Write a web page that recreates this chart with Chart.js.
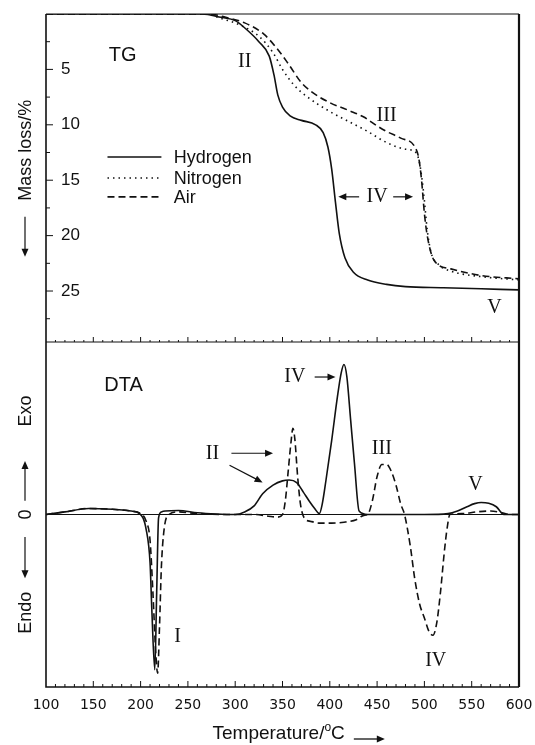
<!DOCTYPE html>
<html>
<head>
<meta charset="utf-8">
<script src="https://cdn.jsdelivr.net/npm/chart.js@4.4.1/dist/chart.umd.min.js"></script>
<style>
  html, body { margin: 0; padding: 0; background: #fff; }
  canvas { display: block; }
</style>
</head>
<body>
<canvas id="chart" width="535" height="745"></canvas>
<script>
'use strict';

// TG panel: temperature (°C) vs. mass loss (%)
const hydrogenTgTemp = [100, 200, 265, 285, 300, 312, 325, 336, 341, 345, 350, 358, 370, 385, 393, 398, 402, 406, 410, 416, 425, 440, 460, 480, 520, 560, 600];
const hydrogenTgLoss = [0, 0, 0, 0.3, 0.6, 1.4, 2.5, 3.8, 5.5, 7.3, 8.4, 9.2, 9.6, 10.0, 10.7, 12.0, 14.0, 17.0, 19.8, 22.0, 23.3, 24.0, 24.4, 24.6, 24.7, 24.8, 24.9];

const nitrogenTgTemp = [100, 200, 268, 285, 305, 325, 340, 350, 362, 375, 400, 420, 440, 460, 480, 491, 495, 499, 503, 507, 515, 528, 560, 600];
const nitrogenTgLoss = [0, 0, 0, 0.4, 1.0, 2.0, 3.5, 5.0, 6.4, 7.4, 8.8, 9.7, 10.6, 11.6, 12.2, 12.5, 13.5, 16.0, 19.5, 21.5, 22.6, 23.2, 23.7, 24.0];

const airTgTemp = [100, 200, 272, 290, 310, 330, 345, 357, 370, 382, 400, 420, 436, 450, 460, 475, 490, 494, 497, 500, 503, 510, 528, 560, 600];
const airTgLoss = [0, 0, 0, 0.3, 0.8, 1.8, 3.2, 4.6, 6.2, 7.1, 8.0, 8.7, 9.3, 10.1, 10.6, 11.2, 12.0, 13.0, 15.0, 18.0, 20.0, 22.2, 23.0, 23.6, 23.9];

// DTA panel: temperature (°C) vs. signal (arbitrary, exo up)
const hydrogenDtaTemp = [100, 120, 145, 170, 190, 199, 206, 210, 212, 215, 217, 219, 222, 226, 240, 260, 280, 300, 310, 320, 329, 340, 350, 357, 365, 372, 378, 384, 389, 392, 396, 402, 408, 412, 415, 418, 422, 426, 431, 440, 470, 500, 525, 535, 545, 553, 560, 568, 576, 584, 600];
const hydrogenDtaSignal = [0, 1.5, 3.5, 3.0, 2.0, 0.5, -9, -28, -57, -90, -45, -2, 1.5, 2.0, 2.3, 1.0, 0.3, 0, 1.5, 5, 12, 17, 19.5, 20, 18.5, 13, 8, 3.5, 0.5, 6, 20, 43, 68, 82, 87, 80, 55, 30, 2, 0, 0, 0, 0.5, 2, 4.5, 6.3, 7, 6.5, 4.5, 0, 0];

const airDtaTemp = [100, 120, 145, 170, 190, 200, 206, 210, 213, 216, 218, 220, 222, 225, 230, 240, 260, 290, 320, 335, 345, 350, 353, 356, 359, 361, 363, 366, 369, 373, 380, 390, 402, 415, 428, 436, 440, 445, 450, 455, 460, 465, 470, 475, 479, 485, 490, 495, 500, 505, 509, 513, 517, 521, 524, 527, 540, 555, 570, 582, 590, 600];
const airDtaSignal = [0, 1.5, 3.5, 3.0, 2.0, 0.5, -4, -15, -45, -80, -92, -65, -30, -8, 0, 1.5, 0.5, 0, 0, -1, -1.5, 0, 8, 25, 42, 50, 44, 22, 6, -2, -4, -5, -5, -4.5, -3, -0.5, 0, 8, 22, 29, 29, 25, 17, 6, 0, -18, -38, -52, -60, -68, -70, -63, -45, -22, -8, 0, 0.5, 1.5, 2, 1, 0, 0];

const seriesNames = ['Hydrogen', 'Nitrogen', 'Air'];

// text labels placed in data units: [panel, temperature, value, text, kind]
const notes = [
    ['tg', 181, 3.7, 'TG', 'sans'],
    ['tg', 310, 4.3, 'II', 'serif'],
    ['tg', 460, 9.2, 'III', 'serif'],
    ['tg', 450, 16.5, 'IV', 'serif'],
    ['tg', 574, 26.5, 'V', 'serif'],
    ['dta', 182, 75, 'DTA', 'sans'],
    ['dta', 276, 35.5, 'II', 'serif'],
    ['dta', 363, 80, 'IV', 'serif'],
    ['dta', 455, 38, 'III', 'serif'],
    ['dta', 554, 17, 'V', 'serif'],
    ['dta', 239, -71, 'I', 'serif'],
    ['dta', 512, -84.5, 'IV', 'serif']
];

// arrows in data units: [panel, t1, v1, t2, v2] (head at the second point)
const arrows = [
    ['tg', 431, 16.5, 409, 16.5],
    ['tg', 467, 16.5, 488, 16.5],
    ['dta', 296, 35.5, 340, 35.5],
    ['dta', 294, 28.5, 329, 18.6],
    ['dta', 384, 79.7, 406, 79.7]
];

function toPoints(xs, ys) {
    return xs.map((x, i) => ({ x: x, y: ys[i] }));
}

const solid = [];
const dotted = [1.5, 4];
const dashed = [7, 4];

function line(label, points, axis, dash) {
    return {
        label: label,
        data: points,
        yAxisID: axis,
        borderColor: '#111',
        borderWidth: 1.6,
        borderDash: dash,
        pointRadius: 0,
        fill: false,
        cubicInterpolationMode: 'monotone'
    };
}

// keep tick labels from pushing the plot area inwards
function noOverflow(s) {
    s.paddingTop = 0;
    s.paddingBottom = 0;
    s.paddingLeft = 0;
    s.paddingRight = 0;
}

function drawArrow(ctx, x1, y1, x2, y2) {
    const a = Math.atan2(y2 - y1, x2 - x1);
    ctx.beginPath();
    ctx.moveTo(x1, y1);
    ctx.lineTo(x2 - 5 * Math.cos(a), y2 - 5 * Math.sin(a));
    ctx.stroke();
    ctx.beginPath();
    ctx.moveTo(x2, y2);
    ctx.lineTo(x2 - 8 * Math.cos(a) + 3.5 * Math.sin(a), y2 - 8 * Math.sin(a) - 3.5 * Math.cos(a));
    ctx.lineTo(x2 - 8 * Math.cos(a) - 3.5 * Math.sin(a), y2 - 8 * Math.sin(a) + 3.5 * Math.cos(a));
    ctx.closePath();
    ctx.fill();
}

const SANS = '"Liberation Sans", Arial, sans-serif';

const decorations = {
    id: 'decorations',
    afterDraw(chart) {
        const ctx = chart.ctx;
        const area = chart.chartArea;
        const x = chart.scales.x;
        const tg = chart.scales.yTG;
        const dta = chart.scales.yDTA;
        const panel = { tg: tg, dta: dta };

        ctx.save();
        ctx.strokeStyle = '#111';
        ctx.fillStyle = '#111';

        // frame and panel divider
        ctx.lineWidth = 1.2;
        ctx.beginPath();
        ctx.moveTo(area.left, area.top);
        ctx.lineTo(area.right, area.top);
        ctx.moveTo(area.left, tg.bottom);
        ctx.lineTo(area.right, tg.bottom);
        ctx.stroke();
        ctx.lineWidth = 1.6;
        ctx.beginPath();
        ctx.moveTo(area.left, area.top);
        ctx.lineTo(area.left, area.bottom);
        ctx.lineTo(area.right, area.bottom);
        ctx.stroke();
        ctx.lineWidth = 2.2;
        ctx.beginPath();
        ctx.moveTo(area.right, area.top);
        ctx.lineTo(area.right, area.bottom);
        ctx.stroke();

        // DTA baseline
        const y0 = dta.getPixelForValue(0);
        ctx.lineWidth = 1;
        ctx.beginPath();
        ctx.moveTo(area.left, y0);
        ctx.lineTo(area.right, y0);
        ctx.stroke();

        // temperature ticks, pointing up
        ctx.lineWidth = 1;
        ctx.beginPath();
        for (let t = 110; t < 600; t += 10) {
            const px = x.getPixelForValue(t);
            const len = t % 50 === 0 ? 6 : 3;
            ctx.moveTo(px, area.bottom);
            ctx.lineTo(px, area.bottom - len);
            ctx.moveTo(px, tg.bottom);
            ctx.lineTo(px, tg.bottom - len + 1);
        }
        // mass loss ticks, pointing right
        for (let v = 2.5; v < 29.6; v += 2.5) {
            const py = tg.getPixelForValue(v);
            const len = v % 5 === 0 ? 7 : 4;
            ctx.moveTo(area.left, py);
            ctx.lineTo(area.left + len, py);
        }
        ctx.stroke();

        // legend inside the TG panel
        const styles = [solid, dotted, dashed];
        ctx.font = '18px ' + SANS;
        ctx.textBaseline = 'middle';
        ctx.textAlign = 'left';
        seriesNames.forEach((name, i) => {
            const py = tg.getPixelForValue([12.9, 14.8, 16.5][i]);
            ctx.save();
            ctx.lineWidth = 1.6;
            ctx.setLineDash(styles[i]);
            ctx.beginPath();
            ctx.moveTo(x.getPixelForValue(165), py);
            ctx.lineTo(x.getPixelForValue(222), py);
            ctx.stroke();
            ctx.restore();
            ctx.fillText(name, x.getPixelForValue(235), py + 1);
        });

        // temperature axis title with a superscript o
        const ty = area.bottom + 47;
        let tx = x.getPixelForValue(276);
        ctx.font = '19px ' + SANS;
        ctx.fillText('Temperature/', tx, ty);
        tx += ctx.measureText('Temperature/').width;
        ctx.font = '12px ' + SANS;
        ctx.fillText('o', tx, ty - 6);
        tx += ctx.measureText('o').width;
        ctx.font = '19px ' + SANS;
        ctx.fillText('C', tx, ty);
        tx += ctx.measureText('C').width;
        ctx.lineWidth = 1.3;
        drawArrow(ctx, tx + 9, ty + 5, tx + 40, ty + 5);

        // annotations
        ctx.textAlign = 'center';
        notes.forEach(n => {
            const s = panel[n[0]];
            ctx.font = n[4] === 'serif'
                ? '20px "Liberation Serif", "Times New Roman", serif'
                : '20px ' + SANS;
            ctx.fillText(n[3], x.getPixelForValue(n[1]), s.getPixelForValue(n[2]));
        });
        ctx.lineWidth = 1.2;
        arrows.forEach(a => {
            const s = panel[a[0]];
            drawArrow(ctx, x.getPixelForValue(a[1]), s.getPixelForValue(a[2]),
                x.getPixelForValue(a[3]), s.getPixelForValue(a[4]));
        });

        // left-hand axis labels
        const lx = 25;
        ctx.font = '18px ' + SANS;
        const vertical = (text, py) => {
            ctx.save();
            ctx.translate(lx, py);
            ctx.rotate(-Math.PI / 2);
            ctx.fillText(text, 0, 1);
            ctx.restore();
        };
        vertical('Mass loss/%', tg.getPixelForValue(12.3));
        drawArrow(ctx, lx, tg.getPixelForValue(18.3), lx, tg.getPixelForValue(21.9));
        vertical('Exo', dta.getPixelForValue(60));
        drawArrow(ctx, lx, dta.getPixelForValue(8), lx, dta.getPixelForValue(31));
        vertical('0', y0);
        drawArrow(ctx, lx, dta.getPixelForValue(-13), lx, dta.getPixelForValue(-37));
        vertical('Endo', dta.getPixelForValue(-57));

        ctx.restore();
    }
};

new Chart(document.getElementById('chart'), {
    type: 'line',
    data: {
        datasets: [
            line(seriesNames[0], toPoints(hydrogenTgTemp, hydrogenTgLoss), 'yTG', solid),
            line(seriesNames[1], toPoints(nitrogenTgTemp, nitrogenTgLoss), 'yTG', dotted),
            line(seriesNames[2], toPoints(airTgTemp, airTgLoss), 'yTG', dashed),
            line(seriesNames[0], toPoints(hydrogenDtaTemp, hydrogenDtaSignal), 'yDTA', solid),
            line(seriesNames[2], toPoints(airDtaTemp, airDtaSignal), 'yDTA', dashed)
        ]
    },
    options: {
        responsive: false,
        animation: false,
        layout: { padding: { left: 46, right: 16, top: 14, bottom: 0 } },
        plugins: { legend: { display: false }, tooltip: { enabled: false } },
        scales: {
            x: {
                type: 'linear',
                min: 100,
                max: 600,
                grid: { display: false, drawTicks: false },
                border: { display: false },
                ticks: {
                    stepSize: 50,
                    padding: 10,
                    color: '#111',
                    maxRotation: 0,
                    font: { family: '"DejaVu Sans", sans-serif', size: 14 }
                },
                afterFit: s => { s.height = 58; noOverflow(s); }
            },
            // stacked axes: the later one is laid out on top
            yDTA: {
                type: 'linear',
                position: 'left',
                stack: 'panels',
                stackWeight: 345,
                min: -100,
                max: 100,
                grid: { display: false, drawTicks: false },
                border: { display: false },
                ticks: { display: false },
                afterFit: s => { s.width = 0; noOverflow(s); }
            },
            yTG: {
                type: 'linear',
                position: 'left',
                stack: 'panels',
                stackWeight: 328,
                reverse: true,
                min: 0,
                max: 29.6,
                grid: { display: false, drawTicks: false },
                border: { display: false },
                ticks: {
                    mirror: true,
                    stepSize: 5,
                    padding: 15,
                    color: '#111',
                    font: { family: SANS, size: 17 },
                    callback: v => (v > 0 && v % 5 === 0 ? v : '')
                },
                afterFit: s => { s.width = 0; noOverflow(s); }
            }
        }
    },
    plugins: [decorations]
});
</script>
</body>
</html>
